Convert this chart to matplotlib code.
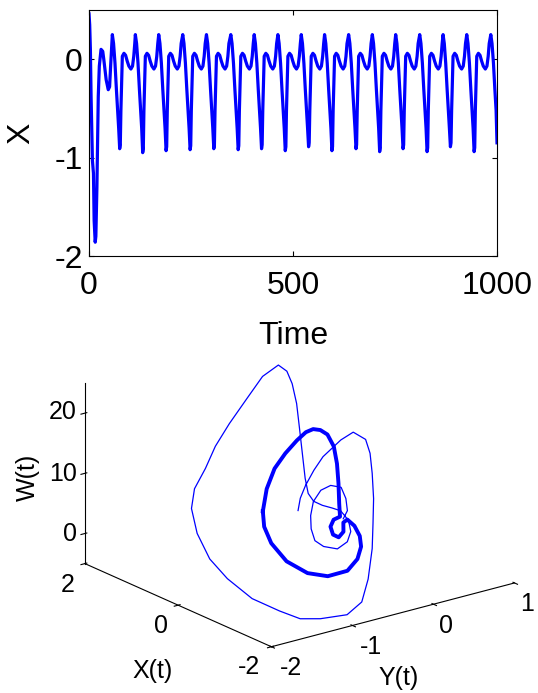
import numpy as np
import matplotlib.pyplot as plt

plt.rcParams['font.family'] = ['Liberation Sans', 'DejaVu Sans']
plt.rcParams['axes.unicode_minus'] = False

# ---------------- top panel: X against time
t_start = [0, 1.7, 3.4, 5.1, 8.4, 10.9, 12.6, 15.2, 16.8, 19.4, 22.7, 25.3,
           29.5, 33.7, 36.2, 42.1, 47.2, 50.5, 53.0]
x_start = [0.46, 0.35, 0.10, -0.38, -1.03, -1.16, -1.64, -1.86, -1.80, -1.30,
           -0.38, -0.07, 0.10, 0.08, 0.0, -0.21, -0.31, -0.28, -0.07]
peak_times = [57.2, 113.6, 170.9, 229.8, 287.9, 347.6, 404.9, 463.0, 520.2,
              577.4, 636.4, 694.4, 751.7, 810.6, 867.8, 925.9, 984.8]
cycle_minima = [-0.91, -0.95, -0.93, -0.92, -0.91, -0.92, -0.91, -0.93,
                -0.89, -0.93, -0.91, -0.94, -0.91, -0.94, -0.89, -0.94]
# one oscillation, time after each peak and value
cycle_dt = [0, 3, 6.5, 10, 13, 15.5, 18, 19.5, 21, 23, 24.5, 28.5, 32.5,
            36.5, 40.5, 45.5, 49.5, 52.5, 55]
cycle_x = [0.25, 0.16, -0.04, -0.31, -0.52, -0.70, None, None, -0.52, -0.18,
           0.03, 0.06, 0.04, -0.02, -0.07, -0.10, -0.07, 0.03, 0.16]
t_last, x_last = 1000, -0.85

# ---------------- bottom panel: trajectory (X, Y, W)
tr_x = [0.4, 0.3, 0.1, -0.2, -0.5, -0.9, -1.2, -1.5, -1.7, -1.85, -1.88, -1.85,
        -1.85, -1.85, -1.8, -1.85, -1.85, -1.8, -1.6, -1.1, -0.5, 0.0, 0.6, 1.0,
        1.3, 1.5, 1.6, 1.7, 1.75, 1.7, 1.5, 1.3, 1.1, 0.9, 0.7, 0.5, 0.3, 0.2,
        0.1, 0.0, -0.1, -0.2, -0.3, -0.4, -0.5, -0.6, -0.6, -0.5, -0.35, -0.2,
        -0.05, 0.05, 0.1, 0.05, 0.0, -0.05, -0.1]
tr_y = [-0.29, -0.32, -0.37, -0.44, -0.50, -0.51, -0.53, -0.55, -0.61, -0.67,
        -0.67, -0.66, -0.67, -0.72, -0.77, -0.98, -1.31, -1.53, -1.67, -1.72,
        -1.68, -1.61, -1.42, -1.26, -1.05, -0.80, -0.62, -0.39, -0.14, 0.02,
        0.10, 0.09, 0.04, -0.02, -0.10, -0.18, -0.26, -0.28, -0.27, -0.22,
        -0.16, -0.11, -0.07, -0.10, -0.20, -0.38, -0.55, -0.60, -0.56, -0.48,
        -0.36, -0.21, -0.06, 0.04, 0.07, 0.06, -0.02]
tr_w = [3.3, 5.8, 8.8, 12.6, 16.1, 20.3, 22.7, 22.6, 21.2, 18.6, 14.5, 10.2,
        6.1, 1.2, -2.6, -3.8, -3.3, -2.7, -1.6, -1.1, 0.0, 1.3, 2.8, 5.0, 6.5,
        8.3, 11.0, 13.6, 16.8, 20.0, 22.3, 22.0, 20.8, 18.4, 15.3, 12.1, 8.9,
        6.8, 5.8, 5.3, 5.0, 4.7, 3.3, 1.9, 0.9, 0.7, 1.7, 2.5, 3.8, 5.2, 6.6,
        7.6, 7.7, 7.2, 5.4, 3.6, 2.7]

lc_x = [-0.6, -0.3, 0.0, 0.1, 0.2, 0.25, 0.25, 0.2, 0.1, 0.05, 0.0, -0.05,
        -0.1, -0.1, -0.05, 0.0, 0.05, 0.05, 0.0, -0.05, -0.1, -0.2, -0.35,
        -0.5, -0.7, -0.85, -0.95, -0.95, -0.9, -0.85, -0.75, -0.6]
lc_y = [-1.30, -1.08, -0.81, -0.62, -0.42, -0.28, -0.19, -0.13, -0.10, -0.05,
        -0.04, -0.05, -0.07, -0.06, -0.11, -0.12, -0.06, 0.01, 0.04, 0.01,
        0.03, 0.06, 0.04, -0.03, -0.19, -0.40, -0.70, -0.95, -1.18, -1.34,
        -1.37, -1.30]
lc_w = [10.2, 12.1, 13.5, 15.0, 16.1, 16.8, 17.0, 16.8, 16.3, 14.3, 11.6, 8.5,
        5.4, 3.2, 2.7, 1.4, -0.3, -1.0, 0.0, 1.8, 2.4, 1.6, 0.5, -0.5, -1.3,
        -2.0, -1.5, -0.1, 2.5, 5.9, 8.4, 10.2]

x_ticks3d = [2, 0, -2]
y_ticks3d = [-2, -1, 0, 1]
w_ticks3d = [0, 10, 20]

# build the time series from the pieces
t_series = list(t_start)
x_series = list(x_start)
for i, p in enumerate(peak_times[:-1]):
    for j, (dt, xv) in enumerate(zip(cycle_dt, cycle_x)):
        if xv is None:
            xv = cycle_minima[i] if j == 6 else cycle_minima[i] + 0.04
        t_series.append(p + dt)
        x_series.append(xv)
for dt, xv in zip(cycle_dt[:5], cycle_x[:5]):
    t_series.append(peak_times[-1] + dt)
    x_series.append(xv)
t_series.append(t_last)
x_series.append(x_last)

fig = plt.figure(figsize=(5.38, 6.93), dpi=100)

# 3D panel first so the top axes is drawn over its blank patch
ax2 = fig.add_axes([0.048, 0.036, 1.0, 0.52], projection='3d')
ax2.patch.set_visible(False)
ax2.set_proj_type('ortho')
ax2.set_box_aspect((1, 1, 0.627), zoom=1.277)
ax2.plot(tr_x, tr_y, tr_w, color='#0000ff', linewidth=0.9)
ax2.plot(lc_x, lc_y, lc_w, color='#0000ff', linewidth=2.8)
ax2.set_xlim(2, -2)
ax2.set_ylim(-2, 1)
ax2.set_zlim(-5, 25)
ax2.set_xticks(x_ticks3d, [''] * len(x_ticks3d))
ax2.set_yticks(y_ticks3d, [''] * len(y_ticks3d))
ax2.set_zticks(w_ticks3d, [''] * len(w_ticks3d))
ax2.view_init(elev=20, azim=-37.5)
ax2.grid(False)
for axis in (ax2.xaxis, ax2.yaxis, ax2.zaxis):
    axis.pane.fill = False
    axis.pane.set_edgecolor('none')
    axis.line.set_color('black')
    axis.line.set_linewidth(0.8)
ax2.zaxis.set_ticks_position('lower')

# tick labels and titles of the 3D box, placed where MATLAB put them (pixels)
def put(px, py, s, **kw):
    fig.text(px / 538, 1 - py / 693, s, fontsize=18, va='center', **kw)

for v, (px, py) in zip(x_ticks3d, [(68, 585), (161, 626), (249, 667)]):
    put(px, py, str(v), ha='center')
for v, (px, py) in zip(y_ticks3d, [(291, 668), (371, 647), (446, 626), (527, 604)]):
    put(px, py, str(v), ha='center')
for v, py in zip(w_ticks3d, [534, 474, 412]):
    put(77, py, str(v), ha='right')
put(153, 671, 'X(t)', ha='center')
put(399, 678, 'Y(t)', ha='center')
put(28, 477, 'W(t)', ha='center', rotation=90)

ax1 = fig.add_axes([89/538, 1 - 256/693, 408/538, 246/693])
ax1.plot(t_series, x_series, color='#0000ff', linewidth=2.3)
ax1.set_xlim(0, 1000)
ax1.set_ylim(-2, 0.5)
ax1.set_xticks([0, 500, 1000])
ax1.set_yticks([-2, -1, 0])
ax1.tick_params(direction='in', length=3.5, width=0.8, labelsize=23,
                top=True, right=True)
ax1.tick_params(axis='x', pad=11)
ax1.tick_params(axis='y', pad=4.5)
for s in ax1.spines.values():
    s.set_linewidth(0.8)
ax1.set_xlabel('Time', fontsize=23, va='center')
ax1.xaxis.set_label_coords(0.5, -0.325)
ax1.set_ylabel('X', fontsize=23, va='center')
ax1.yaxis.set_label_coords(-0.165, 0.5)

fig.savefig('out.png', dpi=100)
